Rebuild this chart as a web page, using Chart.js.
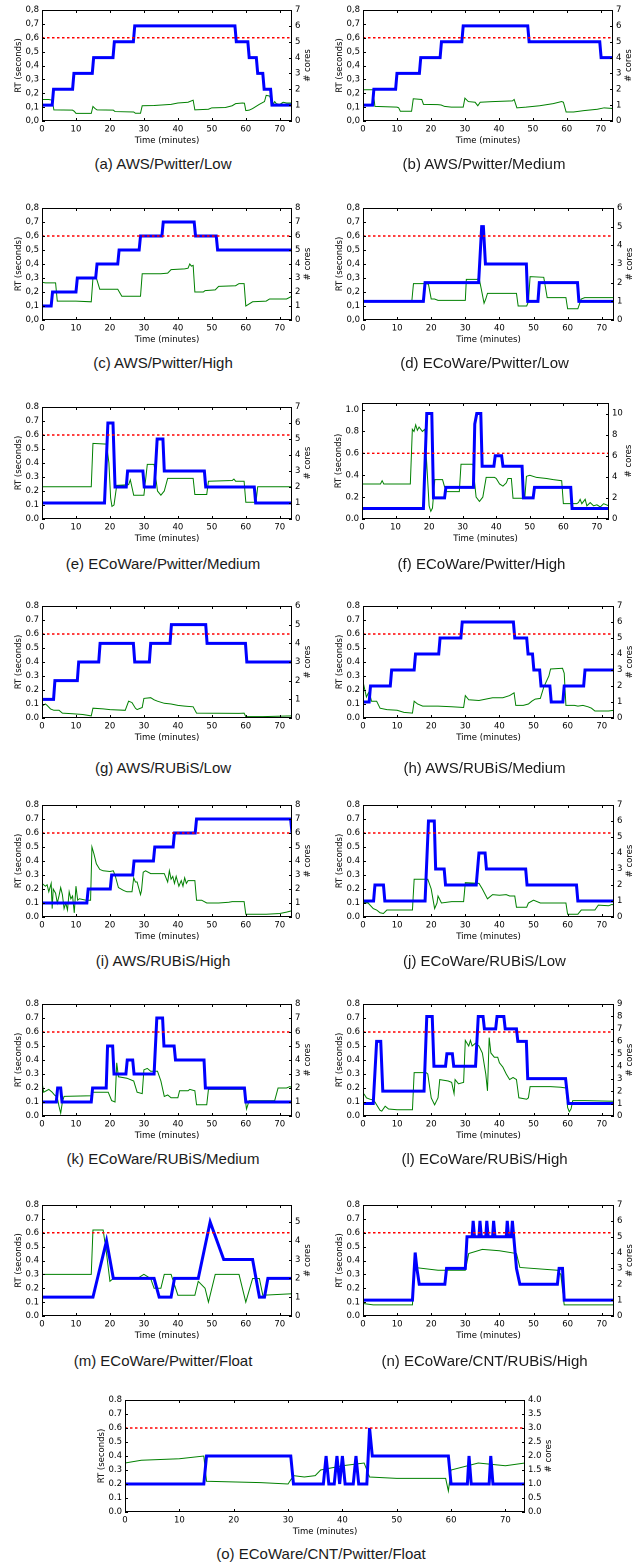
<!DOCTYPE html>
<html><head><meta charset="utf-8">
<script src="https://cdn.jsdelivr.net/npm/chart.js@4.4.1/dist/chart.umd.min.js"></script>
<style>
body{margin:0;background:#fff;width:640px;height:1566px;position:relative;overflow:hidden}
canvas{position:absolute}
.cap{position:absolute;font:15px "Liberation Sans",Arial,sans-serif;color:#1a1a1a;white-space:nowrap;transform:translate(-50%,-50%)}
</style></head><body>
<script>
// [minute, cores] and [minute, RT seconds]
const coresA = [[0,1],[3,1],[3.4,2],[9,2],[9.4,3],[14.8,3],[15.2,4],[20.9,4],[21.3,5],[26.9,5],[27.3,6],[56.8,6],[57.2,5],[60.6,5],[61,4],[63.1,4],[63.5,3],[65,3],[65.4,2],[67.3,2],[67.7,1],[73.6,1]];
const rtA = [[0,0.155],[2,0.155],[3,0.15],[3.5,0.08],[9,0.078],[9.5,0.07],[10,0.055],[14.5,0.055],[15,0.105],[15.6,0.09],[16.2,0.08],[21,0.078],[21.5,0.068],[27,0.065],[27.5,0.056],[29,0.056],[29.5,0.11],[33,0.112],[38,0.12],[40,0.13],[43,0.135],[44.5,0.15],[45,0.08],[49,0.085],[50,0.095],[54,0.097],[56,0.11],[57,0.125],[59,0.13],[59.6,0.128],[60,0.075],[61,0.078],[62,0.09],[64,0.12],[65.5,0.14],[66,0.185],[67,0.18],[68,0.12],[68.5,0.14],[69,0.125],[70,0.12],[71,0.135],[72,0.13],[73.6,0.13]];

const coresB = [[0,1],[2.8,1],[3.2,2],[9.6,2],[10,3],[16.6,3],[17,4],[22.7,4],[23.1,5],[29.1,5],[29.5,6],[48.5,6],[48.9,5],[69.7,5],[70.1,4],[73.6,4]];
const rtB = [[0,0.225],[3,0.225],[3.5,0.105],[10,0.1],[10.5,0.095],[11,0.07],[14.3,0.07],[14.8,0.16],[17.3,0.155],[17.8,0.12],[22,0.118],[23,0.115],[24,0.105],[26,0.1],[29.5,0.1],[30,0.165],[31,0.14],[33,0.135],[33.8,0.11],[34.5,0.135],[38,0.14],[44,0.145],[44.5,0.155],[45.3,0.095],[48,0.1],[52,0.11],[56,0.125],[58.5,0.14],[59,0.135],[59.8,0.065],[62,0.065],[65,0.075],[69,0.085],[71,0.095],[73.6,0.09]];

const coresC = [[0,1],[2.7,1],[3.1,2],[10,2],[10.4,3],[15.8,3],[16.2,4],[22.3,4],[22.7,5],[28.6,5],[29,6],[35.3,6],[35.7,7],[44.8,7],[45.2,6],[51.3,6],[51.7,5],[73.6,5]];
const rtC = [[0,0.27],[1,0.265],[4,0.265],[4.5,0.135],[10,0.135],[14.5,0.13],[15,0.3],[16,0.3],[17,0.22],[22.3,0.22],[23.5,0.17],[29,0.17],[29.5,0.33],[35,0.33],[37,0.335],[38,0.36],[42,0.365],[43,0.37],[43.5,0.4],[44,0.385],[44.5,0.39],[45,0.2],[47.5,0.2],[48,0.21],[51,0.215],[52,0.24],[57,0.245],[58,0.26],[59.5,0.26],[60,0.1],[62,0.13],[66,0.135],[67,0.15],[72,0.15],[73.6,0.17]];

const coresD = [[0,1],[17.7,1],[18.2,2],[33.9,2],[34.8,5],[35.3,5],[35.9,3],[47.9,3],[48.3,1],[51.3,1],[51.7,2],[62.9,2],[63.3,1],[73.6,1]];
const rtD = [[0,0.13],[14.3,0.13],[14.8,0.26],[18.5,0.26],[19.2,0.255],[20,0.15],[21,0.15],[22,0.14],[30,0.14],[30.3,0.29],[33.5,0.29],[34,0.305],[35.5,0.12],[36,0.15],[36.5,0.19],[45,0.19],[45.5,0.1],[48,0.1],[48.5,0.13],[49,0.31],[53,0.305],[54,0.16],[59.5,0.16],[60,0.08],[63,0.08],[64,0.15],[65,0.16],[73.6,0.16]];

const coresE = [[0,1],[18.4,1],[19.4,6],[20.9,6],[21.5,2],[24.8,2],[25.2,3],[29.7,3],[30.1,2],[33.1,2],[33.9,5],[35.6,5],[36,3],[47.8,3],[48.2,2],[62.5,2],[62.9,1],[73.6,1]];
const rtE = [[0,0.23],[14.5,0.23],[15,0.54],[19,0.535],[19.7,0.4],[20.2,0.15],[20.6,0.09],[21.2,0.1],[22,0.24],[25.5,0.245],[26,0.28],[27,0.17],[30,0.17],[31,0.39],[33,0.39],[34,0.2],[35,0.17],[36,0.2],[37,0.29],[44.5,0.29],[45,0.175],[48.5,0.175],[49,0.27],[56,0.275],[56.5,0.285],[57,0.27],[59.5,0.27],[60,0.12],[63,0.12],[63.5,0.23],[73.6,0.23]];

const coresF = [[0,1],[18.3,1],[19.3,10],[20.8,10],[21.3,2],[24.6,2],[25,3],[33.2,3],[33.6,9],[34.2,10],[35.4,10],[35.8,5],[39.3,5],[39.7,6],[41.6,6],[42,5],[47.7,5],[48.1,2],[51,2],[51.4,3],[62.2,3],[62.6,1],[73.6,1]];
const rtF = [[0,0.32],[5.5,0.32],[6,0.35],[6.5,0.32],[14.4,0.32],[15,0.82],[15.5,0.8],[16,0.86],[16.5,0.81],[17,0.84],[18,0.8],[18.7,0.82],[19.3,0.5],[20,0.12],[20.5,0.07],[21,0.1],[21.7,0.36],[24,0.36],[25,0.25],[29,0.25],[29.5,0.5],[33,0.5],[34,0.2],[35,0.16],[36,0.2],[37,0.38],[39.5,0.38],[40,0.37],[41,0.32],[42,0.3],[43,0.33],[43.5,0.37],[44.5,0.37],[45,0.19],[48.5,0.19],[49,0.39],[50,0.4],[52,0.38],[55,0.37],[57,0.36],[59.5,0.35],[60,0.14],[64,0.14],[64.5,0.15],[65,0.18],[65.5,0.14],[66.5,0.18],[67,0.12],[68,0.15],[69,0.12],[70,0.13],[71,0.11],[72,0.14],[73.6,0.12]];

const coresG = [[0,1],[3.4,1],[3.8,2],[10.4,2],[10.8,3],[16.7,3],[17.1,4],[26.9,4],[27.3,3],[31.6,3],[32,4],[37.7,4],[38.1,5],[48.2,5],[48.6,4],[59.9,4],[60.3,3],[73.6,3]];
const rtG = [[0,0.085],[1,0.1],[1.5,0.09],[2.5,0.065],[3.5,0.055],[5,0.055],[6,0.035],[9,0.03],[12,0.025],[14.5,0.015],[15,0.07],[18,0.065],[20,0.06],[24.5,0.055],[25.5,0.12],[26.5,0.11],[27.5,0.07],[28,0.06],[29.5,0.075],[30,0.14],[32,0.145],[33,0.13],[34,0.12],[36,0.105],[38,0.1],[40,0.09],[42,0.085],[44.5,0.08],[45.5,0.035],[58,0.033],[59.5,0.035],[60,0.01],[65,0.01],[73.6,0.015]];

const coresH = [[0,1],[1.8,1],[2.2,2],[8,2],[8.4,3],[15,3],[15.4,4],[22.2,4],[22.6,5],[28.7,5],[29.1,6],[44.1,6],[44.5,5],[48,5],[48.4,4],[49.7,4],[50.1,3],[51.8,3],[52.2,2],[54.8,2],[55.2,1],[58.6,1],[59,2],[64.7,2],[65.1,3],[73.6,3]];
const rtH = [[0,0.26],[1,0.15],[1.8,0.19],[2.5,0.12],[4,0.12],[5,0.07],[7,0.06],[10,0.055],[12,0.04],[14.5,0.035],[15,0.12],[16,0.1],[17.5,0.085],[22,0.085],[26,0.08],[29.5,0.075],[30,0.16],[31,0.13],[34,0.125],[36,0.135],[38,0.145],[41,0.145],[43,0.16],[44.3,0.18],[44.8,0.09],[47,0.09],[48.5,0.1],[49.5,0.12],[50.5,0.135],[52,0.14],[53,0.22],[54.5,0.3],[55,0.35],[58.5,0.355],[59,0.32],[59.5,0.09],[62,0.09],[63,0.085],[64.5,0.09],[66,0.08],[67,0.07],[68,0.05],[72,0.05],[73.6,0.055]];

const coresI = [[0,1],[13.2,1],[13.6,2],[20.1,2],[20.5,3],[26.7,3],[27.1,4],[32.8,4],[33.2,5],[38.6,5],[39,6],[45.1,6],[45.5,7],[73.2,7],[73.6,6]];
const rtI = [[0,0.24],[1,0.22],[1.5,0.23],[2,0.18],[2.7,0.24],[3,0.06],[3.3,0.2],[4,0.17],[4.5,0.1],[5,0.15],[5.5,0.21],[6,0.16],[6.5,0.06],[7,0.1],[7.5,0.05],[8,0.18],[8.5,0.13],[9,0.15],[9.5,0.03],[10,0.22],[10.5,0.12],[11,0.13],[13,0.12],[14.3,0.12],[14.7,0.5],[15.3,0.45],[16,0.38],[17,0.34],[18,0.33],[20,0.325],[21,0.33],[21.5,0.3],[22.5,0.21],[24,0.19],[25,0.18],[26.5,0.18],[27,0.28],[27.5,0.25],[28,0.25],[29,0.16],[29.3,0.19],[29.8,0.32],[30.5,0.33],[32,0.31],[36,0.31],[37,0.25],[37.5,0.33],[38,0.27],[38.5,0.29],[39,0.24],[39.5,0.29],[40.3,0.22],[41,0.26],[41.5,0.22],[42,0.28],[42.5,0.24],[43,0.26],[45,0.26],[45.5,0.12],[47,0.12],[48.5,0.1],[52,0.1],[55,0.105],[56,0.11],[59.5,0.11],[60,0.02],[66,0.02],[70,0.025],[72,0.035],[73.6,0.045]];

const coresJ = [[0,1],[3.1,1],[3.5,2],[6,2],[6.4,1],[18.2,1],[19.2,6],[20.9,6],[21.3,3],[23.8,3],[24.2,2],[33.2,2],[34,4],[35.8,4],[36.2,3],[47.7,3],[48.1,2],[62.6,2],[63,1],[73.6,1]];
const rtJ = [[0,0.1],[1.5,0.1],[3,0.06],[4,0.05],[5,0.03],[6,0.025],[7,0.05],[14.5,0.05],[15,0.27],[19,0.27],[20,0.2],[21,0.06],[21.7,0.1],[22,0.15],[23,0.1],[26,0.11],[29.5,0.11],[30,0.245],[34,0.24],[35,0.2],[36.5,0.13],[38,0.16],[40,0.155],[42,0.16],[43,0.15],[44.5,0.15],[45,0.07],[48,0.07],[48.5,0.1],[50,0.12],[52,0.1],[59.5,0.1],[60,0.02],[63,0.02],[64,0.05],[68,0.05],[69,0.085],[72,0.08],[73,0.09],[73.6,0.085]];

const coresK = [[0,1],[4.2,1],[4.6,2],[5.5,2],[5.9,1],[14.5,1],[14.9,2],[18.9,2],[19.3,5],[20.8,5],[21.2,3],[24.7,3],[25.1,4],[26.7,4],[27.1,3],[33,3],[33.8,7],[35.5,7],[35.9,5],[38.9,5],[39.3,4],[47.7,4],[48.1,2],[59.6,2],[60,1],[73.6,1]];
const rtK = [[0,0.24],[0.5,0.17],[2,0.19],[3,0.17],[3.5,0.155],[4.5,0.13],[5,0.07],[5.5,0.02],[6,0.1],[6.5,0.14],[14.5,0.145],[15,0.17],[19.5,0.17],[20.5,0.11],[21.5,0.1],[22,0.38],[22.5,0.28],[25,0.27],[27,0.25],[28,0.17],[29.5,0.16],[30,0.33],[31,0.34],[32,0.32],[34,0.32],[35,0.25],[36,0.14],[37,0.15],[38,0.13],[40,0.13],[40.5,0.18],[43,0.18],[43.5,0.19],[45,0.18],[45.5,0.08],[48.5,0.08],[49,0.19],[55,0.19],[59.5,0.19],[60.2,0.05],[61,0.11],[68.5,0.11],[69.5,0.2],[72,0.2],[73,0.21],[73.6,0.2]];

const coresL = [[0,1],[3,1],[4,6],[5.2,6],[5.8,2],[17.9,2],[18.7,8],[20.3,8],[20.8,4],[24.2,4],[24.6,5],[26.2,5],[26.6,4],[33,4],[33.8,8],[35.2,8],[35.6,7],[38.9,7],[39.3,8],[41.3,8],[41.7,7],[45,7],[45.4,6],[47.9,6],[48.3,3],[59.4,3],[60.2,1],[73.6,1]];
const rtL = [[0,0.165],[0.5,0.15],[1,0.13],[2,0.12],[3,0.115],[3.5,0.1],[4.5,0.06],[5,0.04],[5.5,0.035],[6.5,0.07],[7.5,0.05],[10,0.045],[14.5,0.045],[15,0.31],[18.5,0.31],[19,0.3],[20,0.13],[21,0.08],[22,0.13],[22.5,0.26],[25,0.25],[26,0.24],[26.7,0.16],[27,0.26],[28,0.23],[29.5,0.24],[30,0.54],[31,0.5],[31.5,0.54],[32,0.5],[33,0.52],[34,0.5],[35,0.45],[36,0.3],[36.5,0.18],[37,0.56],[37.5,0.45],[38.5,0.42],[39.5,0.42],[40,0.38],[41,0.35],[42,0.3],[43,0.26],[44,0.275],[45,0.26],[45.7,0.13],[48,0.12],[48.5,0.13],[49,0.21],[55,0.21],[58,0.205],[59.5,0.2],[60,0.06],[60.5,0.03],[61,0.05],[61.5,0.11],[65,0.11],[73.6,0.105]];

const coresM = [[0,1],[15,1],[19,4],[21,2],[33,2],[34.5,1],[38,1],[39,2],[46,2],[49.5,5],[53.5,3],[62,3],[64,1],[65.5,1],[66.5,2],[73.6,2]];
const rtM = [[0,0.3],[14.5,0.3],[15,0.62],[18,0.62],[19,0.45],[20,0.25],[21,0.27],[28,0.27],[30,0.3],[32,0.27],[33,0.2],[35,0.2],[36,0.3],[38,0.3],[40,0.15],[45,0.15],[46,0.25],[48,0.2],[49,0.1],[51,0.3],[58,0.3],[60,0.1],[62,0.27],[64,0.27],[65,0.15],[73.6,0.16]];

const coresN = [[0,1],[14.5,1],[15.3,4],[15.8,3],[16.5,2],[24,2],[24.5,3],[30,3],[30.5,5],[32,5],[32.3,6],[32.7,5],[34,5],[34.3,6],[34.7,5],[36,5],[36.3,6],[36.7,5],[38,5],[38.3,6],[38.7,5],[42,5],[42.3,6],[42.7,5],[43.5,5],[43.8,6],[44.2,5],[45,3],[46,2],[57,2],[57.5,3],[58.5,3],[59,1],[73.6,1]];
const rtN = [[0,0.09],[3,0.08],[14.5,0.08],[15,0.35],[22,0.33],[30,0.33],[31,0.45],[35,0.48],[40,0.47],[45,0.45],[46,0.35],[57,0.33],[58,0.3],[59,0.08],[73.6,0.08]];

const coresO = [[0,1],[14.5,1],[15,2],[30.5,2],[31,1],[36.5,1],[37,2],[37.5,1],[38.5,1],[39,2],[39.5,1],[40,2],[40.5,1],[42,1],[42.5,2],[43,1],[44.5,1],[45,3],[45.5,2],[59.5,2],[60,1],[63,1],[63.3,2],[63.7,1],[67,1],[67.3,2],[67.7,1],[73.6,1]];
const rtO = [[0,0.35],[3,0.37],[10,0.38],[14.5,0.4],[15,0.22],[25,0.21],[30,0.2],[31,0.26],[33,0.25],[35,0.26],[36,0.3],[40,0.33],[44,0.35],[45,0.25],[50,0.24],[59,0.24],[59.5,0.15],[60,0.3],[65,0.35],[70,0.33],[73.6,0.35]];

const slaRT = 0.6;
const timeMax = 73.6;

const panels = [
  {cap:'(a) AWS/Pwitter/Low', rt:rtA, cores:coresA, rtMax:0.8, cMax:7, comma:true, box:[42,10,292,121], capY:163},
  {cap:'(b) AWS/Pwitter/Medium', rt:rtB, cores:coresB, rtMax:0.8, cMax:7, comma:true, box:[363,10,613,121], capY:163},
  {cap:'(c) AWS/Pwitter/High', rt:rtC, cores:coresC, rtMax:0.8, cMax:8, comma:true, box:[42,208,292,320], capY:362},
  {cap:'(d) ECoWare/Pwitter/Low', rt:rtD, cores:coresD, rtMax:0.8, cMax:6, comma:true, box:[363,208,614,320], capY:362},
  {cap:'(e) ECoWare/Pwitter/Medium', rt:rtE, cores:coresE, rtMax:0.8, cMax:7, box:[42,407,292,519], capY:563},
  {cap:'(f) ECoWare/Pwitter/High', rt:rtF, cores:coresF, rtMax:1.06, rtStep:0.2, cMax:11, cStep:2, rTitle:20, box:[362,403,609,519], capY:563},
  {cap:'(g) AWS/RUBiS/Low', rt:rtG, cores:coresG, rtMax:0.8, cMax:6, box:[42,606,292,718], capY:767},
  {cap:'(h) AWS/RUBiS/Medium', rt:rtH, cores:coresH, rtMax:0.8, cMax:7, box:[363,606,614,718], capY:767},
  {cap:'(i) AWS/RUBiS/High', rt:rtI, cores:coresI, rtMax:0.8, cMax:8, box:[42,805,292,917], capY:960},
  {cap:'(j) ECoWare/RUBiS/Low', rt:rtJ, cores:coresJ, rtMax:0.8, cMax:7, box:[363,805,614,917], capY:960},
  {cap:'(k) ECoWare/RUBiS/Medium', rt:rtK, cores:coresK, rtMax:0.8, cMax:8, box:[42,1004,292,1116], capY:1158},
  {cap:'(l) ECoWare/RUBiS/High', rt:rtL, cores:coresL, rtMax:0.8, cMax:9, box:[363,1004,614,1116], capY:1158},
  {cap:'(m) ECoWare/Pwitter/Float', rt:rtM, cores:coresM, rtMax:0.8, cMax:5.9, box:[42,1205,292,1316], capY:1360},
  {cap:'(n) ECoWare/CNT/RUBiS/High', rt:rtN, cores:coresN, rtMax:0.8, cMax:7, box:[363,1205,614,1316], capY:1360},
  {cap:'(o) ECoWare/CNT/Pwitter/Float', rt:rtO, cores:coresO, rtMax:0.8, cMax:4, cStep:0.5, cDec:1, rTitle:24, box:[125,1400,525,1512], capY:1553}
];

const FONT = {family:'"DejaVu Sans", sans-serif', size:8.5};

// inward ticks, closed frame and the three axis titles
const frame = {
  id:'frame',
  afterDraw(chart, args, opts) {
    const {ctx, chartArea:a, scales} = chart;
    ctx.save();
    ctx.strokeStyle = '#000';
    ctx.lineWidth = 1;
    ctx.strokeRect(a.left + 0.5, a.top + 0.5, a.right - a.left - 1, a.bottom - a.top - 1);
    ctx.beginPath();
    scales.x.ticks.forEach(t => {
      const p = Math.round(scales.x.getPixelForValue(t.value)) + 0.5;
      ctx.moveTo(p, a.bottom); ctx.lineTo(p, a.bottom - 3);
      ctx.moveTo(p, a.top); ctx.lineTo(p, a.top + 3);
    });
    scales.y.ticks.forEach(t => {
      const p = Math.round(scales.y.getPixelForValue(t.value)) + 0.5;
      ctx.moveTo(a.left, p); ctx.lineTo(a.left + 3, p);
    });
    scales.y1.ticks.forEach(t => {
      const p = Math.round(scales.y1.getPixelForValue(t.value)) + 0.5;
      ctx.moveTo(a.right, p); ctx.lineTo(a.right - 3, p);
    });
    ctx.stroke();
    ctx.fillStyle = '#000';
    ctx.font = '8.5px "DejaVu Sans"';
    ctx.textAlign = 'center';
    ctx.textBaseline = 'middle';
    ctx.fillText('Time (minutes)', (a.left + a.right) / 2, a.bottom + 20);
    const midY = (a.top + a.bottom) / 2;
    ctx.save();
    ctx.translate(a.left - 23, midY); ctx.rotate(-Math.PI / 2);
    ctx.fillText('RT (seconds)', 0, 0);
    ctx.restore();
    ctx.save();
    ctx.translate(a.right + (opts.rTitle || 16), midY); ctx.rotate(-Math.PI / 2);
    ctx.fillText('# cores', 0, 0);
    ctx.restore();
    ctx.restore();
  }
};

const pts = arr => arr.map(([x, y]) => ({x, y}));
const noGrid = {display:false, drawTicks:false, tickLength:0};

panels.forEach(p => {
  const [L, T, R, B] = p.box;
  const cv = document.createElement('canvas');
  const w = R - L + 42 + 32, h = B - T + 10 + 32;
  cv.width = w; cv.height = h;
  cv.style.left = (L - 42) + 'px';
  cv.style.top = (T - 10) + 'px';
  cv.style.width = w + 'px'; cv.style.height = h + 'px';
  document.body.appendChild(cv);

  const cap = document.createElement('div');
  cap.className = 'cap';
  cap.textContent = p.cap;
  cap.style.left = ((L + R) / 2 - 4) + 'px';
  cap.style.top = p.capY + 'px';
  document.body.appendChild(cap);

  const fmtRT = v => { const s = v.toFixed(1); return p.comma ? s.replace('.', ',') : s; };
  const fmtC = v => p.cDec ? v.toFixed(p.cDec) : String(Math.round(v));

  new Chart(cv, {
    type:'line',
    data:{datasets:[
      {data:pts([[0, slaRT], [timeMax, slaRT]]), yAxisID:'y', borderColor:'#ff0000', borderWidth:1.4, borderDash:[2.5, 2.5], order:0},
      {data:pts(p.cores), yAxisID:'y1', borderColor:'#0000ff', borderWidth:3, order:1},
      {data:pts(p.rt), yAxisID:'y', borderColor:'#008000', borderWidth:1, order:2}
    ]},
    options:{
      responsive:false, animation:false, devicePixelRatio:2,
      layout:{padding:{top:10, left:0, right:0, bottom:0}},
      elements:{point:{radius:0}, line:{tension:0, fill:false}},
      plugins:{legend:{display:false}, tooltip:{enabled:false}, frame:{rTitle:p.rTitle}},
      scales:{
        x:{type:'linear', min:0, max:timeMax,
          ticks:{stepSize:10, includeBounds:false, autoSkip:false, maxRotation:0, padding:3, font:FONT, color:'#000'},
          grid:noGrid, border:{display:false},
          afterFit:s => { s.height = 32; }},
        y:{position:'left', min:0, max:p.rtMax,
          ticks:{stepSize:p.rtStep || 0.1, includeBounds:false, autoSkip:false, padding:3, font:FONT, color:'#000', callback:fmtRT},
          grid:noGrid, border:{display:false},
          afterFit:s => { s.width = 42; }},
        y1:{position:'right', min:0, max:p.cMax,
          ticks:{stepSize:p.cStep || 1, includeBounds:false, autoSkip:false, padding:3, font:FONT, color:'#000', callback:fmtC},
          grid:noGrid, border:{display:false},
          afterFit:s => { s.width = 32; }}
      }
    },
    plugins:[frame]
  });
});
</script>
</body></html>
